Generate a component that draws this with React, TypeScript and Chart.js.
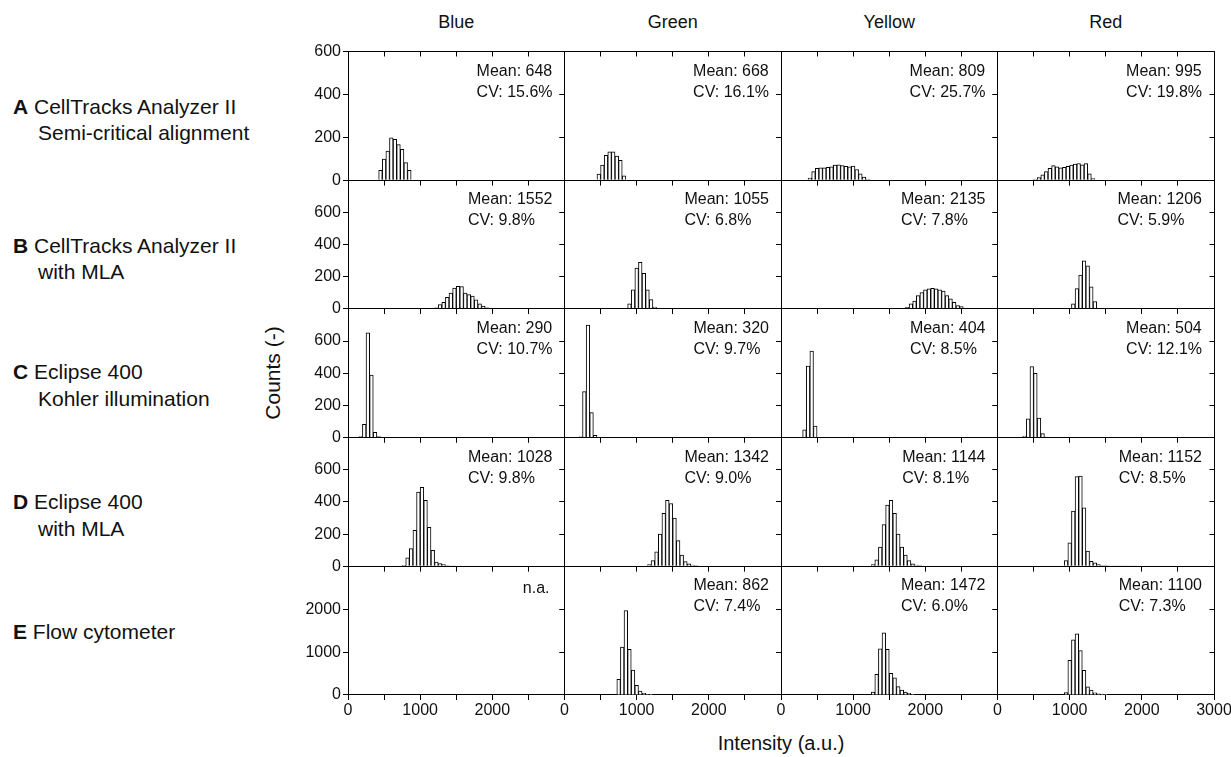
import React, { useEffect, useRef } from "react";
import { Chart, registerables } from "chart.js";

Chart.register(...registerables);

// ---------------- data ----------------
const channels = ["Blue", "Green", "Yellow", "Red"];
const rowLetters = ["A", "B", "C", "D", "E"];
const rowTitles = [
  ["CellTracks Analyzer II", "Semi-critical alignment"],
  ["CellTracks Analyzer II", "with MLA"],
  ["Eclipse 400", "Kohler illumination"],
  ["Eclipse 400", "with MLA"],
  ["Flow cytometer"],
];
const yMaxima = [600, 800, 800, 800, 3000];
const yTickSteps = [200, 200, 200, 200, 1000];
const xMax = 3000;
const xTickStep = 500;
const binWidth = 50;

const meanLabels = [
  ["648", "668", "809", "995"],
  ["1552", "1055", "2135", "1206"],
  ["290", "320", "404", "504"],
  ["1028", "1342", "1144", "1152"],
  ["", "862", "1472", "1100"],
];
const cvLabels = [
  ["15.6%", "16.1%", "25.7%", "19.8%"],
  ["9.8%", "6.8%", "7.8%", "5.9%"],
  ["10.7%", "9.7%", "8.5%", "12.1%"],
  ["9.8%", "9.0%", "8.1%", "8.5%"],
  ["", "7.4%", "6.0%", "7.3%"],
];

// lower edge (intensity) of the first bin in each panel
const firstBinA = [425, 450, 375, 500];
const firstBinB = [1200, 875, 1725, 1025];
const firstBinC = [150, 200, 300, 350];
const firstBinD = [750, 1150, 1250, 925];
const firstBinE = [0, 725, 1250, 925];

// counts per 50-unit bin
const countsABlue = [46, 99, 136, 198, 190, 166, 144, 82, 46];
const countsAGreen = [28, 70, 116, 132, 132, 112, 93, 20];
const countsAYellow = [10, 40, 55, 58, 58, 60, 62, 70, 72, 68, 65, 62, 66, 50, 30, 15, 5];
const countsARed = [5, 12, 25, 40, 55, 68, 62, 58, 60, 65, 70, 75, 78, 72, 78, 30, 8];

const countsBBlue = [6, 27, 41, 72, 99, 130, 141, 139, 99, 89, 79, 56, 31, 17, 6];
const countsBGreen = [31, 118, 253, 290, 221, 118, 58, 12];
const countsBYellow = [10, 31, 48, 83, 101, 118, 124, 128, 124, 118, 110, 83, 62, 41, 21, 14];
const countsBRed = [32, 126, 211, 299, 267, 137, 46];

const countsCBlue = [6, 83, 652, 389, 33, 6];
const countsCGreen = [5, 286, 700, 155, 14];
const countsCYellow = [48, 445, 538, 72, 3];
const countsCRed = [10, 116, 442, 400, 122, 25, 4, 3, 2, 2];

const countsDBlue = [6, 52, 110, 224, 462, 491, 410, 242, 99, 27, 17, 10, 5, 3, 2];
const countsDGreen = [10, 35, 90, 200, 330, 410, 390, 300, 160, 70, 30, 15, 8, 5];
const countsDYellow = [10, 40, 120, 260, 380, 410, 330, 200, 120, 70, 35, 15, 8, 4];
const countsDRed = [35, 146, 343, 557, 561, 364, 94, 31, 21, 10, 5, 4, 3, 3, 2, 2, 2, 2, 1, 1];

const countsEBlue: number[] = [];
const countsEGreen = [364, 1116, 1969, 1062, 581, 225, 93, 39, 15, 8];
const countsEYellow = [70, 481, 1078, 1450, 1062, 504, 403, 194, 116, 70, 39, 15];
const countsERed = [54, 808, 1285, 1423, 1038, 577, 192, 115, 50, 30, 15, 8];

const firstBins = [firstBinA, firstBinB, firstBinC, firstBinD, firstBinE];
const counts = [
  [countsABlue, countsAGreen, countsAYellow, countsARed],
  [countsBBlue, countsBGreen, countsBYellow, countsBRed],
  [countsCBlue, countsCGreen, countsCYellow, countsCRed],
  [countsDBlue, countsDGreen, countsDYellow, countsDRed],
  [countsEBlue, countsEGreen, countsEYellow, countsERed],
];

// ---------------- layout ----------------
const FONT = '"Liberation Sans", Arial, Helvetica, sans-serif';
const PAGE_W = 1231;
const PAGE_H = 757;
const colLefts = [348, 564.5, 781, 997.5];
const panelW = 216.5;
const rowTops = [51.5, 180.2, 308.9, 437.6, 566.3];
const panelH = 128.7;
const M_LEFT = 62;
const M_TOP = 12;
const M_RIGHT = 22;
const M_BOTTOM = 36;

const alignPx = (p: number) => Math.round(p - 0.5) + 0.5;

const framePlugin = {
  id: "frameMirror",
  afterDraw(chart: any) {
    const { ctx, chartArea: a, scales } = chart;
    const top = alignPx(a.top);
    const right = alignPx(a.right);
    const left = alignPx(a.left);
    const bottom = alignPx(a.bottom);
    ctx.save();
    ctx.strokeStyle = "#000";
    ctx.lineWidth = 1;
    ctx.beginPath();
    ctx.moveTo(left, top);
    ctx.lineTo(right, top);
    ctx.lineTo(right, bottom);
    ctx.stroke();
    ctx.beginPath();
    scales.x.ticks.forEach((t: any) => {
      const px = alignPx(scales.x.getPixelForValue(t.value));
      ctx.moveTo(px, top);
      ctx.lineTo(px, top + 5);
    });
    scales.y.ticks.forEach((t: any) => {
      const py = alignPx(scales.y.getPixelForValue(t.value));
      ctx.moveTo(right, py);
      ctx.lineTo(right - 5, py);
    });
    ctx.stroke();
    ctx.restore();
  },
};

function Panel({ r, c }: { r: number; c: number }) {
  const ref = useRef<HTMLCanvasElement>(null);
  const cLeft = Math.floor(colLefts[c]) - M_LEFT;
  const cTop = Math.floor(rowTops[r]) - M_TOP;
  const cW = M_LEFT + Math.ceil(panelW) + M_RIGHT;
  const cH = M_TOP + Math.ceil(panelH) + M_BOTTOM;
  const yAxisW = colLefts[c] - cLeft;
  const padTop = rowTops[r] - cTop;
  const padRight = cW - yAxisW - panelW;
  const xAxisH = cH - padTop - panelH;

  useEffect(() => {
    const start = firstBins[r][c];
    const data = counts[r][c].map((v, i) => ({ x: start + binWidth * (i + 0.5), y: v }));
    const yMax = yMaxima[r];
    const tickFont = { family: FONT, size: 16 };
    const chart = new Chart(ref.current as HTMLCanvasElement, {
      type: "bar",
      data: {
        datasets: [
          {
            data,
            backgroundColor: "#ffffff",
            borderColor: "#000000",
            borderWidth: 1,
            barPercentage: 1,
            categoryPercentage: 1,
          } as any,
        ],
      },
      options: {
        animation: false,
        responsive: false,
        maintainAspectRatio: false,
        events: [],
        layout: { autoPadding: false, padding: { left: 0, top: padTop, right: padRight, bottom: 0 } } as any,
        plugins: { legend: { display: false }, tooltip: { enabled: false } },
        scales: {
          x: {
            type: "linear",
            min: 0,
            max: xMax,
            offset: false,
            grid: { offset: false, drawOnChartArea: false, drawTicks: true, tickLength: 5, color: "#000", lineWidth: 1 },
            border: { display: true, color: "#000", width: 1 },
            ticks: {
              stepSize: xTickStep,
              autoSkip: false,
              maxRotation: 0,
              minRotation: 0,
              padding: 1,
              color: "#111",
              font: tickFont,
              callback: (v: any) => {
                if (r !== 4) return "";
                if (v % 1000 !== 0) return "";
                if (v === xMax && c !== 3) return "";
                return String(v);
              },
            },
            afterFit: (s: any) => {
              s.height = xAxisH;
            },
          },
          y: {
            type: "linear",
            min: 0,
            max: yMax,
            grid: { drawOnChartArea: false, drawTicks: true, tickLength: 5, color: "#000", lineWidth: 1 },
            border: { display: true, color: "#000", width: 1 },
            ticks: {
              stepSize: yTickSteps[r],
              autoSkip: false,
              padding: 2,
              color: "#111",
              font: tickFont,
              callback: (v: any) => {
                if (c !== 0) return "";
                if (v === yMax && r !== 0) return "";
                return String(v);
              },
            },
            afterFit: (s: any) => {
              s.width = yAxisW;
            },
          },
        },
      } as any,
      plugins: [framePlugin],
    });
    return () => chart.destroy();
  }, [r, c]);

  return (
    <canvas
      ref={ref}
      width={cW}
      height={cH}
      style={{ position: "absolute", left: cLeft, top: cTop, width: cW, height: cH, pointerEvents: "none" }}
    />
  );
}

export default function App() {
  const panels: JSX.Element[] = [];
  const stats: JSX.Element[] = [];
  for (let r = 0; r < 5; r++) {
    for (let c = 0; c < 4; c++) {
      panels.push(<Panel key={`p${r}${c}`} r={r} c={c} />);
      const rightEdge = colLefts[c] + panelW - 12;
      const isNA = meanLabels[r][c] === "";
      stats.push(
        <div
          key={`s${r}${c}`}
          style={{
            position: "absolute",
            right: PAGE_W - rightEdge,
            top: rowTops[r] + 8,
            fontFamily: FONT,
            fontSize: 16,
            lineHeight: "21px",
            color: "#111",
            whiteSpace: "pre",
            textAlign: "left",
          }}
        >
          {isNA ? <div style={{ marginTop: 3, marginRight: 3 }}>n.a.</div> : (
            <>
              <div>{`Mean: ${meanLabels[r][c]}`}</div>
              <div>{`CV: ${cvLabels[r][c]}`}</div>
            </>
          )}
        </div>
      );
    }
  }
  const rowLabelTops = [93.5, 232.5, 359, 489, 619];
  return (
    <div
      style={{
        position: "absolute",
        left: 0,
        top: 0,
        width: PAGE_W,
        height: PAGE_H,
        overflow: "hidden",
        background: "#fff",
        fontFamily: FONT,
        color: "#111",
      }}
    >
      {channels.map((name, c) => (
        <div
          key={name}
          style={{
            position: "absolute",
            left: colLefts[c],
            width: panelW,
            top: 11,
            textAlign: "center",
            fontSize: 18,
            lineHeight: "22px",
          }}
        >
          {name}
        </div>
      ))}
      {rowTitles.map((lines, r) => (
        <div key={`rl${r}`} style={{ position: "absolute", left: 13, top: rowLabelTops[r], fontSize: 21, lineHeight: "26.5px" }}>
          <div style={{ whiteSpace: "pre" }}>
            <span style={{ fontWeight: "bold" }}>{rowLetters[r]}</span>
            {" " + lines[0]}
          </div>
          {lines[1] ? <div style={{ paddingLeft: 25, whiteSpace: "pre" }}>{lines[1]}</div> : null}
        </div>
      ))}
      <div
        style={{
          position: "absolute",
          left: 273 - 80,
          top: 373 - 13,
          width: 160,
          height: 26,
          lineHeight: "26px",
          textAlign: "center",
          fontSize: 21,
          transform: "rotate(-90deg)",
        }}
      >
        Counts (-)
      </div>
      <div
        style={{
          position: "absolute",
          left: 781 - 150,
          width: 300,
          top: 730,
          textAlign: "center",
          fontSize: 20,
          lineHeight: "26px",
        }}
      >
        Intensity (a.u.)
      </div>
      {panels}
      {stats}
    </div>
  );
}
